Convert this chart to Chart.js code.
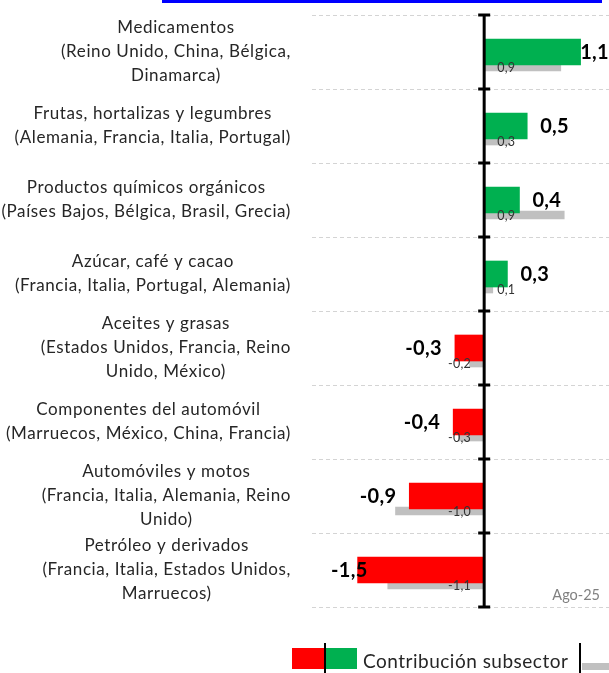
<!DOCTYPE html>
<html>
<head>
<meta charset="utf-8">
<script src="https://cdn.jsdelivr.net/npm/chart.js@4.4.1/dist/chart.umd.min.js"></script>
<style>
  html, body { margin: 0; padding: 0; background: #fff; }
  #wrap { position: relative; width: 609px; height: 673px; overflow: hidden; font-family: Lato, "Open Sans", sans-serif; }
  #topline { position: absolute; left: 162px; top: 0; width: 440px; height: 3px; background: #0000ff; }
  #chart { position: absolute; left: 0; top: 0; }
  .sw { position: absolute; }
  #legText { position: absolute; left: 363px; top: 649px; font-size: 19px; letter-spacing: 0.5px; color: #262626; white-space: nowrap; line-height: 24px; }
</style>
</head>
<body>
<div id="wrap">
  <div id="topline"></div>
  <canvas id="chart" width="609" height="673"></canvas>
  <div class="sw" style="left:292px;top:648px;width:33px;height:21px;background:#ff0000"></div>
  <div class="sw" style="left:325px;top:648px;width:32px;height:21px;background:#00b050"></div>
  <div class="sw" style="left:324px;top:643px;width:2px;height:30px;background:#000"></div>
  <div id="legText"></div>
  <div class="sw" style="left:579px;top:643px;width:2px;height:30px;background:#000"></div>
  <div class="sw" style="left:582px;top:663px;width:27px;height:7px;background:#c0c0c0"></div>
</div>
<script>
// sector names with main countries
const categories = [
    ['Medicamentos', '(Reino Unido, China, Bélgica,', 'Dinamarca)'],
    ['Frutas, hortalizas y legumbres', '(Alemania, Francia, Italia, Portugal)'],
    ['Productos químicos orgánicos', '(Países Bajos, Bélgica, Brasil, Grecia)'],
    ['Azúcar, café y cacao', '(Francia, Italia, Portugal, Alemania)'],
    ['Aceites y grasas', '(Estados Unidos, Francia, Reino', 'Unido, México)'],
    ['Componentes del automóvil', '(Marruecos, México, China, Francia)'],
    ['Automóviles y motos', '(Francia, Italia, Alemania, Reino', 'Unido)'],
    ['Petróleo y derivados', '(Francia, Italia, Estados Unidos,', 'Marruecos)']
];
// current contribution (Ago-25) and previous period (grey)
const contribution = [1.12, 0.50, 0.41, 0.27, -0.34, -0.36, -0.87, -1.47];
const previous = [0.89, 0.30, 0.93, 0.10, -0.17, -0.30, -1.03, -1.12];
const periodLabel = 'Ago-25';
const legendLabel = 'Contribución subsector';

document.getElementById('legText').textContent = legendLabel;

const GREEN = '#00b050';
const RED = '#ff0000';
const GREY = '#c0c0c0';
const FONT = 'Lato, "Open Sans", sans-serif';

const fmt = v => v.toFixed(1).replace('.', ',');

Chart.defaults.font.family = FONT;

const overlay = {
    id: 'overlay',
    afterDatasetsDraw(chart) {
        const ctx = chart.ctx;
        const area = chart.chartArea;
        const xs = chart.scales.x;
        const ys = chart.scales.y;
        const x0 = xs.getPixelForValue(0);

        ctx.save();

        // zero axis with tick marks between categories
        ctx.strokeStyle = '#000';
        ctx.lineWidth = 3;
        ctx.beginPath();
        ctx.moveTo(x0, area.top);
        ctx.lineTo(x0, area.bottom);
        ctx.stroke();
        for (let i = 0; i <= categories.length; i++) {
            const y = area.top + (area.bottom - area.top) * i / categories.length;
            ctx.beginPath();
            ctx.moveTo(x0 - 6, y);
            ctx.lineTo(x0 + 6, y);
            ctx.stroke();
        }

        // category labels: block right aligned, lines centered
        ctx.fillStyle = '#262626';
        ctx.font = '17px ' + FONT;
        ctx.letterSpacing = '0.6px';
        ctx.textAlign = 'center';
        ctx.textBaseline = 'middle';
        const lh = 24;
        categories.forEach((lines, i) => {
            const yc = ys.getPixelForValue(i);
            const w = Math.max(...lines.map(l => ctx.measureText(l).width));
            const cx = area.left - 21 - w / 2;
            lines.forEach((l, k) => {
                ctx.fillText(l, cx, yc - (lines.length - 1) * lh / 2 + k * lh);
            });
        });

        // main value labels
        const main = chart.getDatasetMeta(1).data;
        ctx.font = 'bold 20px ' + FONT;
        ctx.letterSpacing = '0.3px';
        ctx.fillStyle = '#000';
        main.forEach((bar, i) => {
            const v = contribution[i];
            const t = fmt(v);
            const w = ctx.measureText(t).width;
            if (v >= 0) {
                let x = bar.x + 13;
                if (x + w > area.right) x = area.right - w;
                ctx.textAlign = 'left';
                ctx.fillText(t, x, bar.y + 1);
            } else {
                let x = bar.x - 13;
                if (x - w < area.left + 19) x = area.left + 19 + w;
                ctx.textAlign = 'right';
                ctx.fillText(t, x, bar.y + 1);
            }
        });

        // previous period labels near the base
        const prev = chart.getDatasetMeta(2).data;
        ctx.font = '12.5px ' + FONT;
        ctx.letterSpacing = '0.3px';
        ctx.fillStyle = '#333';
        prev.forEach((bar, i) => {
            const v = previous[i];
            ctx.textAlign = v >= 0 ? 'left' : 'right';
            ctx.fillText(fmt(v), v >= 0 ? x0 + 13 : x0 - 13, bar.y + 1);
        });

        // period tag
        ctx.font = '14.5px ' + FONT;
        ctx.letterSpacing = '0px';
        ctx.fillStyle = '#808080';
        ctx.textAlign = 'right';
        ctx.fillText(periodLabel, area.right - 9, area.bottom - 12);

        ctx.restore();
    }
};

new Chart(document.getElementById('chart'), {
    type: 'bar',
    data: {
        labels: categories,
        datasets: [
            {
                // empty slot so the main bar sits in the middle of the group
                label: '',
                data: categories.map(() => null),
                barThickness: 26
            },
            {
                label: legendLabel,
                data: contribution,
                backgroundColor: contribution.map(v => v >= 0 ? GREEN : RED),
                barThickness: 26
            },
            {
                label: 'Anterior',
                data: previous,
                backgroundColor: GREY,
                barThickness: 15,
                maxBarThickness: 8
            }
        ]
    },
    options: {
        indexAxis: 'y',
        responsive: false,
        animation: false,
        layout: {
            padding: { left: 312, top: 15, right: 0, bottom: 66 }
        },
        plugins: {
            legend: { display: false },
            tooltip: { enabled: false }
        },
        scales: {
            x: {
                type: 'linear',
                display: false,
                min: -2,
                max: 1.45
            },
            y: {
                type: 'category',
                offset: true,
                ticks: { display: false },
                border: { display: false, dash: [4, 3] },
                grid: {
                    offset: true,
                    drawTicks: false,
                    color: '#d4d4d4',
                    lineWidth: 1,
                    borderDash: [4, 3]
                }
            }
        }
    },
    plugins: [overlay]
});
</script>
</body>
</html>
